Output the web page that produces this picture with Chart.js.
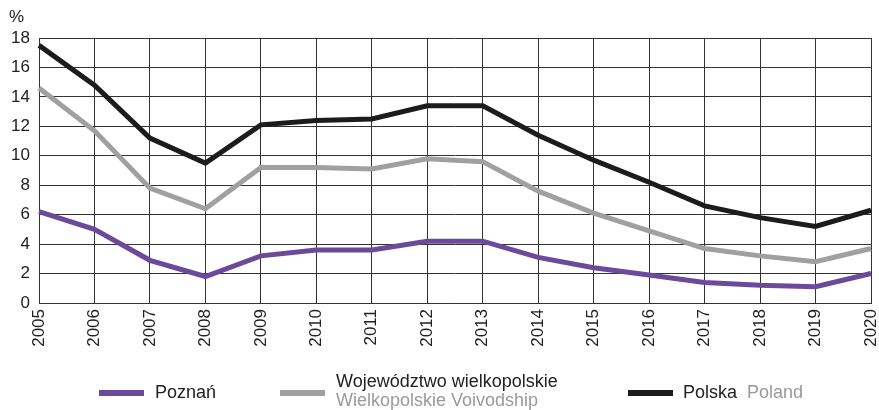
<!DOCTYPE html>
<html>
<head>
<meta charset="utf-8">
<script src="https://cdn.jsdelivr.net/npm/chart.js@4"></script>
<style>
  body { margin: 0; background: #fff; }
  #wrap { position: relative; width: 879px; height: 410px; font-family: "Liberation Sans", Arial, sans-serif; }
  .unit { position: absolute; left: 9px; top: 7px; font-size: 17px; color: #222; }
  .leg { position: absolute; font-family: "Liberation Sans Narrow", "Liberation Sans", Arial, sans-serif; font-size: 18px; color: #222; line-height: 19px; white-space: nowrap; transform-origin: 0 50%; }
  .sw { position: absolute; height: 6px; width: 45px; }
  .en { color: #9a9a9a; }
</style>
</head>
<body>
<div id="wrap">
  <canvas id="rateChart" width="879" height="410"></canvas>
  <div class="unit">%</div>
  <div class="sw" style="left:99px; top:390px; background:#6b4a9b;"></div>
  <div class="leg" style="left:155px; top:383px;">Poznań</div>
  <div class="sw" style="left:280px; top:390px; background:#a0a0a0;"></div>
  <div class="leg" style="left:336px; top:372px;">Województwo wielkopolskie<br><span class="en">Wielkopolskie Voivodship</span></div>
  <div class="sw" style="left:628px; top:390px; background:#1c1c1c;"></div>
  <div class="leg" style="left:683px; top:383px;">Polska&nbsp;&nbsp;<span class="en">Poland</span></div>
</div>
<script>
const ctx = document.getElementById("rateChart").getContext("2d");

// years on the x axis
const years = ["2005", "2006", "2007", "2008", "2009", "2010", "2011", "2012",
  "2013", "2014", "2015", "2016", "2017", "2018", "2019", "2020"];
// values in %
const poznan = [6.2, 5.0, 2.9, 1.8, 3.2, 3.6, 3.6, 4.2, 4.2, 3.1, 2.4, 1.9, 1.4, 1.2, 1.1, 2.0];
const wielkopolskie = [14.6, 11.7, 7.8, 6.4, 9.2, 9.2, 9.1, 9.8, 9.6, 7.6, 6.1, 4.9, 3.7, 3.2, 2.8, 3.7];
const polska = [17.5, 14.8, 11.2, 9.5, 12.1, 12.4, 12.5, 13.4, 13.4, 11.4, 9.7, 8.2, 6.6, 5.8, 5.2, 6.3];
const yTicks = [0, 2, 4, 6, 8, 10, 12, 14, 16, 18];

const lineStyle = {
  borderWidth: 5,
  pointRadius: 0,
  tension: 0,
  fill: false,
};

const data = {
  labels: years,
  datasets: [
    { label: "Polska", data: polska, borderColor: "#1c1c1c", ...lineStyle },
    { label: "Województwo wielkopolskie", data: wielkopolskie, borderColor: "#a0a0a0", ...lineStyle },
    { label: "Poznań", data: poznan, borderColor: "#6b4a9b", ...lineStyle },
  ],
};

const config = {
  type: "line",
  data: data,
  options: {
    responsive: false,
    animation: false,
    layout: {
      padding: { top: 38, right: 8, left: 0, bottom: 0 },
    },
    plugins: {
      legend: { display: false },
      tooltip: { enabled: false },
    },
    scales: {
      x: {
        offset: false,
        grid: { color: "#333", lineWidth: 1, drawTicks: false },
        border: { color: "#333" },
        ticks: {
          color: "#222",
          font: { family: "Liberation Sans", size: 17 },
          minRotation: 90,
          maxRotation: 90,
          padding: 6,
          autoSkip: false,
        },
        afterFit: (scale) => {
          scale.height = 107;
          scale.paddingLeft = 0;
          scale.paddingRight = 0;
        },
      },
      y: {
        min: 0,
        max: 18,
        afterBuildTicks: (scale) => { scale.ticks = yTicks.map((v) => ({ value: v })); },
        grid: { color: "#333", lineWidth: 1, drawTicks: false },
        border: { color: "#333" },
        ticks: {
          color: "#222",
          font: { family: "Liberation Sans", size: 17 },
          padding: 9,
        },
        afterFit: (scale) => { scale.width = 39; },
      },
    },
  },
};

const rateChart = new Chart(ctx, config);
</script>
</body>
</html>
